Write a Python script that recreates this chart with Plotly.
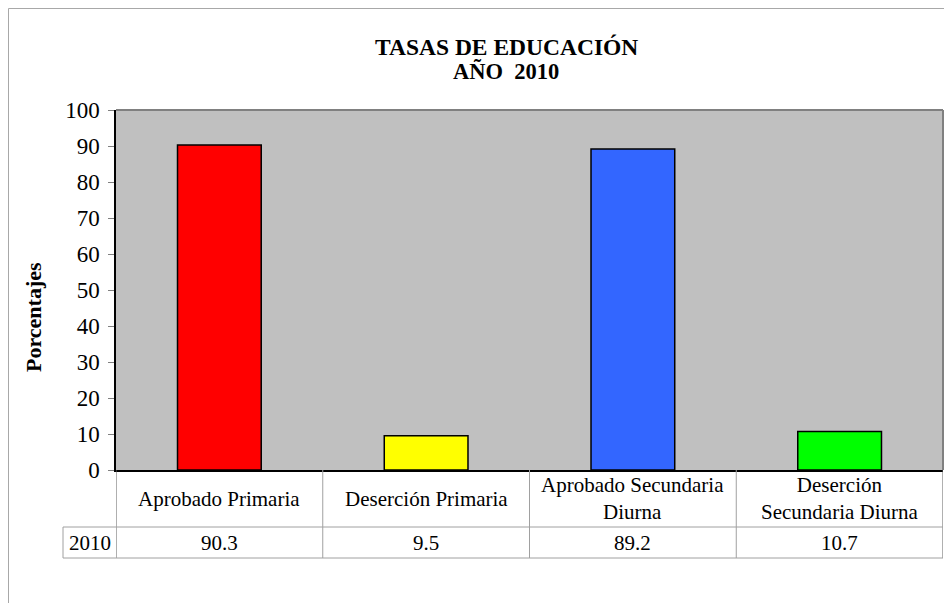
import plotly.graph_objects as go

categories = ["Aprobado Primaria", "Deserción Primaria",
              "Aprobado Secundaria<br>Diurna", "Deserción<br>Secundaria Diurna"]
values = [90.3, 9.5, 89.2, 10.7]
value_labels = ["90.3", "9.5", "89.2", "10.7"]
bar_colors = ["#FF0000", "#FFFF00", "#3366FF", "#00FF00"]
series_name = "2010"
y_ticks = [0, 10, 20, 30, 40, 50, 60, 70, 80, 90, 100]

# page offset (browser body margin)
OFF = 8
W, H = 952, 603
L, R, T, B = 116 - OFF, W - 943 + OFF, 110 - OFF, H - 470 + OFF
pw = W - L - R
ph = H - T - B

def px2x(px):
    return (px - OFF - L) / pw

def py2y(py):
    return (H - B - (py - OFF)) / ph

FONT = "Liberation Serif"
GRID = "#A0A0A0"

xs = list(range(len(categories)))
fig = go.Figure()
fig.add_trace(go.Bar(
    x=xs, y=values,
    marker=dict(color=bar_colors, line=dict(color="black", width=1.5)),
    width=0.405, hoverinfo="skip"))

shapes = []
annotations = []

# frame around chart
shapes.append(dict(type="rect", xref="paper", yref="paper",
                   x0=px2x(8.5), x1=px2x(990), y0=py2y(650), y1=py2y(8.5),
                   line=dict(color="#A8A8A8", width=1), layer="below"))
# plot border top & right
shapes.append(dict(type="line", xref="paper", yref="paper", x0=0, x1=1, y0=1, y1=1,
                   line=dict(color="#808080", width=2)))
shapes.append(dict(type="line", xref="paper", yref="paper", x0=1, x1=1, y0=0, y1=1,
                   line=dict(color="#808080", width=2)))

# data table
row1 = py2y(527)
row2 = py2y(558)
xleft = px2x(63)
for k in range(len(categories) + 1):
    shapes.append(dict(type="line", xref="x", yref="paper", x0=k - 0.5, x1=k - 0.5,
                       y0=row2, y1=0,
                       line=dict(color="#606060" if k in (0, len(categories)) else GRID, width=1)))
shapes.append(dict(type="line", xref="paper", yref="paper", x0=xleft, x1=xleft,
                   y0=row2, y1=row1, line=dict(color=GRID, width=1)))
for yy in (row1, row2):
    shapes.append(dict(type="line", xref="paper", yref="paper", x0=xleft, x1=1,
                       y0=yy, y1=yy, line=dict(color=GRID, width=1)))

for i, c in enumerate(categories):
    annotations.append(dict(x=i, y=row1 / 2, xref="x", yref="paper", text=c,
                            showarrow=False, yanchor="middle", xanchor="center",
                            font=dict(family=FONT, size=21, color="black")))
    annotations.append(dict(x=i, y=(row1 + row2) / 2, xref="x", yref="paper",
                            text=value_labels[i], showarrow=False,
                            yanchor="middle", xanchor="center",
                            font=dict(family=FONT, size=21, color="black")))
annotations.append(dict(x=(xleft + 0) / 2, y=(row1 + row2) / 2, xref="paper", yref="paper",
                        text=series_name, showarrow=False, yanchor="middle", xanchor="center",
                        font=dict(family=FONT, size=21, color="black")))

# title
annotations.append(dict(x=px2x(506), y=py2y(47), xref="paper", yref="paper",
                        text="<b>TASAS DE EDUCACIÓN</b>", showarrow=False,
                        yanchor="middle", xanchor="center",
                        font=dict(family=FONT, size=23.5, color="black")))
annotations.append(dict(x=px2x(506), y=py2y(72), xref="paper", yref="paper",
                        text="<b>AÑO\u00a0 2010</b>", showarrow=False,
                        yanchor="middle", xanchor="center",
                        font=dict(family=FONT, size=22.5, color="black")))
# y title
annotations.append(dict(x=px2x(33), y=py2y(317), xref="paper", yref="paper",
                        text="<b>Porcentajes</b>", showarrow=False, textangle=-90,
                        yanchor="middle", xanchor="center",
                        font=dict(family=FONT, size=22, color="black")))

fig.update_layout(
    width=W, height=H,
    margin=dict(l=L, r=R, t=T, b=B),
    paper_bgcolor="white", plot_bgcolor="#C0C0C0",
    showlegend=False,
    bargap=0.6,
    shapes=shapes, annotations=annotations,
    xaxis=dict(range=[-0.5, len(categories) - 0.5], showticklabels=False,
               showgrid=False, zeroline=False, showline=True,
               linecolor="black", linewidth=2, ticks="", fixedrange=True),
    yaxis=dict(range=[0, 100], tickvals=y_ticks, showgrid=False, zeroline=False,
               showline=True, linecolor="black", linewidth=1.5,
               ticks="outside", ticklen=6, tickcolor="#808080", tickwidth=1,
               tickfont=dict(family=FONT, size=23, color="black"), ticklabelstandoff=4,
               fixedrange=True),
)

fig.write_html("out.html")
